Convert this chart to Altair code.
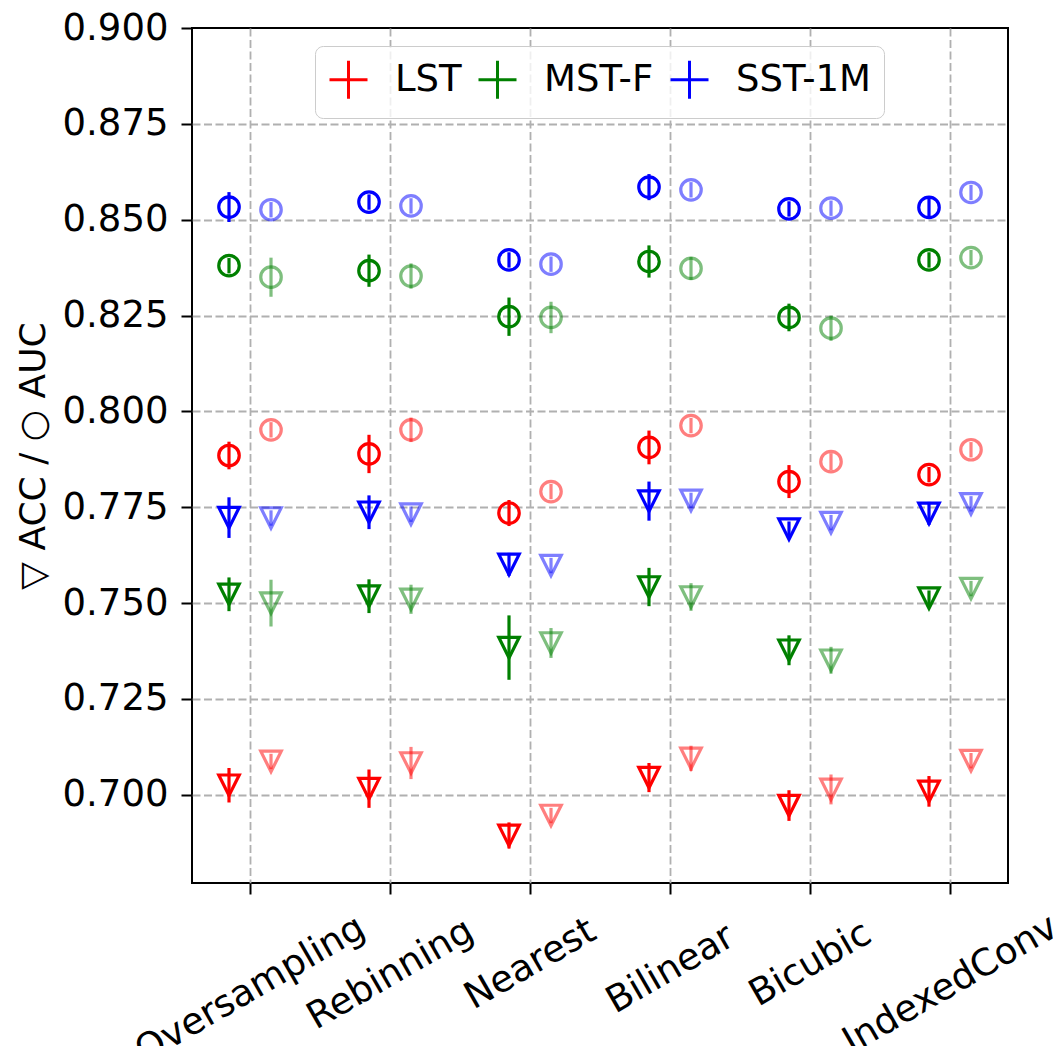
import altair as alt
import pandas as pd

# ---------------- data ----------------
methods = ["Oversampling", "Rebinning", "Nearest", "Bilinear", "Bicubic", "IndexedConv"]
datasets = ["LST", "MST-F", "SST-1M"]
colors = ["#ff0000", "#008000", "#0000ff"]

# LST
lst_auc_solid = [0.7885, 0.7889, 0.7735, 0.7906, 0.7817, 0.7835]
lst_auc_solid_err = [0.0036, 0.0050, 0.0034, 0.0044, 0.0043, 0.0020]
lst_auc_faded = [0.7952, 0.7952, 0.7791, 0.7963, 0.7869, 0.7900]
lst_auc_faded_err = [0.0020, 0.0032, 0.0020, 0.0020, 0.0022, 0.0020]
lst_acc_solid = [0.7025, 0.7016, 0.6894, 0.7045, 0.6972, 0.7009]
lst_acc_solid_err = [0.0045, 0.0050, 0.0034, 0.0038, 0.0040, 0.0040]
lst_acc_faded = [0.7087, 0.7083, 0.6946, 0.7095, 0.7014, 0.7089]
lst_acc_faded_err = [0.0020, 0.0042, 0.0020, 0.0033, 0.0039, 0.0020]

# MST-F
mst_auc_solid = [0.8380, 0.8367, 0.8247, 0.8391, 0.8245, 0.8395]
mst_auc_solid_err = [0.0020, 0.0042, 0.0050, 0.0042, 0.0036, 0.0020]
mst_auc_faded = [0.8350, 0.8353, 0.8245, 0.8373, 0.8217, 0.8401]
mst_auc_faded_err = [0.0051, 0.0033, 0.0041, 0.0030, 0.0033, 0.0020]
mst_acc_solid = [0.7523, 0.7518, 0.7384, 0.7542, 0.7377, 0.7513]
mst_acc_solid_err = [0.0044, 0.0044, 0.0084, 0.0050, 0.0039, 0.0020]
mst_acc_faded = [0.7500, 0.7510, 0.7396, 0.7516, 0.7351, 0.7538]
mst_acc_faded_err = [0.0061, 0.0038, 0.0039, 0.0036, 0.0035, 0.0020]

# SST-1M
sst_auc_solid = [0.8533, 0.8546, 0.8395, 0.8585, 0.8528, 0.8532]
sst_auc_solid_err = [0.0039, 0.0020, 0.0020, 0.0034, 0.0020, 0.0025]
sst_auc_faded = [0.8526, 0.8536, 0.8384, 0.8578, 0.8530, 0.8571]
sst_auc_faded_err = [0.0020, 0.0020, 0.0020, 0.0020, 0.0020, 0.0020]
sst_acc_solid = [0.7723, 0.7737, 0.7601, 0.7766, 0.7693, 0.7734]
sst_acc_solid_err = [0.0053, 0.0044, 0.0030, 0.0051, 0.0020, 0.0030]
sst_acc_faded = [0.7722, 0.7732, 0.7598, 0.7768, 0.7710, 0.7759]
sst_acc_faded_err = [0.0020, 0.0020, 0.0020, 0.0020, 0.0020, 0.0020]

series = [
    ("LST", "AUC", "solid", lst_auc_solid, lst_auc_solid_err),
    ("LST", "AUC", "faded", lst_auc_faded, lst_auc_faded_err),
    ("LST", "ACC", "solid", lst_acc_solid, lst_acc_solid_err),
    ("LST", "ACC", "faded", lst_acc_faded, lst_acc_faded_err),
    ("MST-F", "AUC", "solid", mst_auc_solid, mst_auc_solid_err),
    ("MST-F", "AUC", "faded", mst_auc_faded, mst_auc_faded_err),
    ("MST-F", "ACC", "solid", mst_acc_solid, mst_acc_solid_err),
    ("MST-F", "ACC", "faded", mst_acc_faded, mst_acc_faded_err),
    ("SST-1M", "AUC", "solid", sst_auc_solid, sst_auc_solid_err),
    ("SST-1M", "AUC", "faded", sst_auc_faded, sst_auc_faded_err),
    ("SST-1M", "ACC", "solid", sst_acc_solid, sst_acc_solid_err),
    ("SST-1M", "ACC", "faded", sst_acc_faded, sst_acc_faded_err),
]

rows = []
for ds, metric, variant, vals, errs in series:
    for i, (v, e) in enumerate(zip(vals, errs)):
        rows.append({
            "dataset": ds, "metric": metric, "variant": variant,
            "idx": i, "value": v, "lo": v - e, "hi": v + e,
        })
df = pd.DataFrame(rows)

FONT = "DejaVu Sans"
names_js = "[" + ",".join("'%s'" % m for m in methods) + "]"
tri_down = "M-1,-1L1,-1L0,1Z"
plus = "M-1,0L1,0M0,-1L0,1"

base = alt.Chart(df).transform_calculate(
    xpos="datum.idx + (datum.variant == 'solid' ? -0.15 : 0.15)"
)

xenc = alt.X(
    "xpos:Q",
    scale=alt.Scale(domain=[-0.4143, 5.4143], nice=False, zero=False),
    axis=alt.Axis(
        values=list(range(len(methods))),
        labelExpr=names_js + "[datum.value]",
        labelAngle=330,
        labelAlign="center",
        labelBaseline="middle",
        labelPadding={"expr": "34 + 5.1 * length(" + names_js + "[datum.value])"},
        labelOverlap=False,
        labelBound=False,
        labelFlush=False,
        labelLimit=1000,
        title=None,
    ),
)

yscale = alt.Scale(domain=[0.677, 0.900], nice=False, zero=False)
yaxis = alt.Axis(
    values=[0.700, 0.725, 0.750, 0.775, 0.800, 0.825, 0.850, 0.875, 0.900],
    format=".3f",
    title="▽ ACC / ○ AUC",
    labelPadding=13,
    titlePadding=10,
    labelFlush=False,
    gridOpacity={"condition": {"test": "datum.value >= 0.8999", "value": 0}, "value": 1},
)

cscale = alt.Scale(domain=datasets, range=colors)
oscale = alt.Scale(domain=["solid", "faded"], range=[1.0, 0.5])

legend = alt.Legend(
    orient="none",
    legendX=123,
    legendY=18,
    direction="horizontal",
    title=None,
    symbolType=plus,
    symbolSize=1444,
    symbolStrokeWidth=3,
    symbolOpacity=1,
    labelFontSize=37,
    labelFont=FONT,
    labelOffset=26,
    columnPadding=10,
    padding=13,
    strokeColor="#cccccc",
    fillColor="rgba(255,255,255,0.8)",
    cornerRadius=8,
)

rules = base.mark_rule(strokeWidth=3.2).encode(
    x=xenc,
    y=alt.Y("lo:Q", scale=yscale, axis=yaxis),
    y2="hi:Q",
    color=alt.Color("dataset:N", scale=cscale, legend=legend),
    opacity=alt.Opacity("variant:N", scale=oscale, legend=None),
)

points = base.mark_point(filled=False, strokeWidth=3.2, size=420).encode(
    x=xenc,
    y=alt.Y("value:Q", scale=yscale, axis=yaxis),
    color=alt.Color("dataset:N", scale=cscale, legend=legend),
    shape=alt.Shape(
        "metric:N",
        scale=alt.Scale(domain=["AUC", "ACC"], range=["circle", tri_down]),
        legend=None,
    ),
    opacity=alt.Opacity("variant:N", scale=oscale, legend=None),
)

chart = (
    alt.layer(rules, points)
    .properties(
        width=816,
        height=855,
        autosize=alt.AutoSizeParams(type="none"),
        padding={"left": 184, "top": 20, "right": 45, "bottom": 163},
    )
    .configure_view(stroke="black", strokeWidth=2)
    .configure_axis(
        labelFont=FONT,
        labelFontSize=37,
        labelColor="black",
        titleFont=FONT,
        titleFontSize=36,
        titleFontWeight="normal",
        titleColor="black",
        domain=False,
        tickColor="black",
        tickSize=11,
        tickWidth=2,
        grid=True,
        gridColor="#b0b0b0",
        gridDash=[8, 3.5],
        gridWidth=1.8,
    )
)

chart.save("out.html", embed_options={"renderer": "svg", "actions": False})
